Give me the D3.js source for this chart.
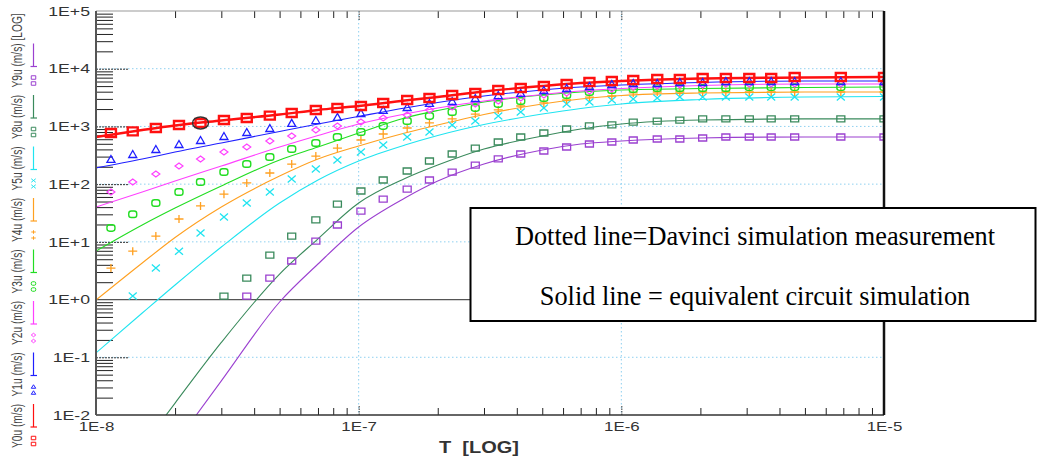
<!DOCTYPE html>
<html>
<head>
<meta charset="utf-8">
<script src="https://cdn.jsdelivr.net/npm/d3@7"></script>
<style>
body { margin: 0; background: #fff; }
svg { display: block; }
</style>
</head>
<body>
<svg id="chart" width="1037" height="461"></svg>
<script>
var T = [1.14e-8, 1.38e-8, 1.69e-8, 2.07e-8, 2.5e-8, 3.07e-8, 3.75e-8, 4.59e-8, 5.56e-8, 6.87e-8, 8.3e-8,
         1.02e-7, 1.24e-7, 1.53e-7, 1.86e-7, 2.27e-7, 2.78e-7, 3.4e-7, 4.14e-7, 5.07e-7, 6.19e-7, 7.56e-7, 9.2e-7,
         1.11e-6, 1.37e-6, 1.67e-6, 2.04e-6, 2.5e-6, 3.07e-6, 3.72e-6, 4.57e-6, 6.85e-6, 1e-5];
var y0u = [769, 820, 939, 1060, 1150, 1290, 1400, 1540, 1710, 1930, 2090, 2260, 2550, 2870, 3110, 3500, 3800,
           4280, 4630, 5010, 5430, 5880, 6120, 6370, 6630, 6630, 6900, 6900, 6900, 6900, 7180, 7180, 7180];
var y1u = [273, 333, 406, 496, 582, 682, 800, 939, 1150, 1290, 1460, 1710, 1930, 2170, 2550, 2760, 3110,
           3500, 3800, 4280, 4630, 5010, 5430, 5650, 5650, 5880, 5880, 6120, 6120, 6120, 6120, 6120, 6120];
var y2u = [73, 109, 150, 206, 273, 360, 440, 559, 682, 867, 1020, 1190, 1400, 1580, 1930, 2170, 2450,
           2760, 3110, 3500, 3800, 4110, 4450, 4800, 5010, 5220, 5220, 5430, 5430, 5430, 5430, 5430, 5430];
var y3u = [17.4, 30, 47, 73, 109, 162, 223, 295, 406, 516, 656, 800, 1020, 1240, 1520, 1780, 2090,
           2450, 2760, 3110, 3500, 3950, 4280, 4450, 4630, 4630, 4630, 4630, 4800, 4800, 4800, 4800, 4800];
var y4u = [3.52, 6.9, 12.6, 24.9, 42, 67, 105, 156, 223, 307, 422, 582, 739, 939, 1150, 1350, 1640,
           1930, 2260, 2550, 2870, 3230, 3370, 3800, 3950, 3950, 3950, 3950, 3950, 3950, 3950, 3950, 3950];
var y5u = [null, 1.15, 3.52, 6.9, 14.2, 27, 47, 73, 123, 183, 262, 360, 476, 656, 800, 1060, 1240,
           1520, 1780, 2090, 2450, 2650, 2870, 2990, 3110, 3230, 3230, 3230, 3230, 3230, 3230, 3230, 3230];
var y8u = [null, null, null, null, null, 1.15, 2.36, 5.9, 12.6, 24, 45, 76, 118, 169, 252, 333, 422,
           537, 656, 769, 902, 1020, 1060, 1190, 1240, 1290, 1350, 1350, 1350, 1350, 1350, 1350, 1350];
var y9u = [null, null, null, null, null, null, 1.15, 2.36, 4.66, 10.3, 19.6, 34, 55, 82, 118, 162, 214,
           273, 333, 375, 440, 496, 537, 582, 605, 605, 630, 656, 656, 656, 656, 656, 656];

// equivalent circuit simulation (solid lines)
var lineT = [1e-8, 1.5e-8, 2e-8, 3e-8, 5e-8, 7e-8, 1e-7, 1.5e-7, 2e-7, 3e-7, 5e-7, 7e-7, 1e-6, 2e-6, 5e-6, 1e-5];
var y0uSim = [656, 867, 1040, 1270, 1610, 1930, 2260, 2810, 3240, 4030, 5010, 5650, 6120, 6760, 7040, 7180];
var y1uSim = [191, 272, 360, 516, 817, 1100, 1490, 2090, 2590, 3370, 4280, 4820, 5220, 5770, 6120, 6120];
var y2uSim = [40.2, 73.1, 113, 206, 440, 697, 1100, 1640, 2090, 2760, 3570, 4110, 4540, 5120, 5430, 5430];
var y3uSim = [6.93, 19.6, 38.5, 92.9, 262, 440, 769, 1400, 1890, 2650, 3500, 3950, 4280, 4550, 4720, 4820];
var y4uSim = [0.98, 4.3, 11.9, 40.2, 138, 272, 458, 769, 1060, 1610, 2450, 2990, 3440, 3800, 3950, 3950];
var y5uSim = [0.119, 0.585, 1.79, 8.15, 47.1, 118, 252, 476, 697, 1080, 1640, 2050, 2450, 2930, 3240, 3300];
var y8uSim = [null, 0.0028, 0.0161, 0.181, 2.77, 11.3, 47, 125, 214, 406, 682, 902, 1100, 1290, 1350, 1350];
var y9uSim = [null, null, 0.00314, 0.039, 0.908, 4.13, 18.1, 57.5, 113, 223, 390, 496, 559, 630, 656, 656];

var seriesNames = ["Y0u (m/s)", "Y1u (m/s)", "Y2u (m/s)", "Y3u (m/s)", "Y4u (m/s)", "Y5u (m/s)", "Y8u (m/s)", "Y9u (m/s) [LOG]"];
var yTicks = [1e-2, 1e-1, 1, 10, 100, 1e3, 1e4, 1e5];
var yTickLabels = ["1E-2", "1E-1", "1E+0", "1E+1", "1E+2", "1E+3", "1E+4", "1E+5"];
var xTicks = [1e-8, 1e-7, 1e-6, 1e-5];
var xTickLabels = ["1E-8", "1E-7", "1E-6", "1E-5"];
var boxLines = ["Dotted line=Davinci simulation measurement", "Solid line = equivalent circuit simulation"];

var series = [
    {name: seriesNames[0], marks: y0u, sim: y0uSim, color: "#ff1010", sym: "square", w: 10, h: 8, sw: 2.4, lw: 2.4},
    {name: seriesNames[1], marks: y1u, sim: y1uSim, color: "#1f1fff", sym: "triangle", w: 8, h: 7, sw: 1.3, lw: 1.1},
    {name: seriesNames[2], marks: y2u, sim: y2uSim, color: "#ff40ff", sym: "diamond", w: 8, h: 6, sw: 1.2, lw: 1.1},
    {name: seriesNames[3], marks: y3u, sim: y3uSim, color: "#22dd22", sym: "circle", w: 8, h: 6.5, sw: 1.4, lw: 1.1},
    {name: seriesNames[4], marks: y4u, sim: y4uSim, color: "#ffa020", sym: "plus", w: 9, h: 8, sw: 1.3, lw: 1.1},
    {name: seriesNames[5], marks: y5u, sim: y5uSim, color: "#20e4f0", sym: "cross", w: 8, h: 7, sw: 1.3, lw: 1.1},
    {name: seriesNames[6], marks: y8u, sim: y8uSim, color: "#3a8a5c", sym: "square", w: 8, h: 6, sw: 1.3, lw: 1.1},
    {name: seriesNames[7], marks: y9u, sim: y9uSim, color: "#9b40d0", sym: "square", w: 8, h: 6, sw: 1.3, lw: 1.1}
];

// plot frame in pixels (don't name these top/left: window.top is read-only)
var plotL = 96, plotR = 884, plotT = 11, plotB = 415;
var x = d3.scaleLog().domain([1e-8, 1e-5]).range([plotL, plotR]);
var y = d3.scaleLog().domain([1e-2, 1e5]).range([plotB, plotT]);

// minor tick positions 2..9 in each decade
var minorX = [], minorY = [];
for (var d = -8; d < -5; d++) for (var k = 2; k < 10; k++) minorX.push(k * Math.pow(10, d));
for (var d = -2; d < 5; d++) for (var k = 2; k < 10; k++) minorY.push(k * Math.pow(10, d));

function symbolPath(sym, w, h) {
    var a = w / 2, b = h / 2;
    if (sym == "square") return "M" + (-a) + "," + (-b) + "H" + a + "V" + b + "H" + (-a) + "Z";
    if (sym == "triangle") return "M0," + (-b) + "L" + a + "," + b + "L" + (-a) + "," + b + "Z";
    if (sym == "diamond") return "M0," + (-b) + "L" + a + ",0L0," + b + "L" + (-a) + ",0Z";
    if (sym == "plus") return "M" + (-a) + ",0H" + a + "M0," + (-b) + "V" + b;
    if (sym == "cross") return "M" + (-a) + "," + (-b) + "L" + a + "," + b + "M" + a + "," + (-b) + "L" + (-a) + "," + b;
    // rounded "o"
    var r = Math.min(a, b) * 0.8;
    return "M" + (-a + r) + "," + (-b) + "H" + (a - r) + "A" + r + "," + r + " 0 0 1 " + a + "," + (-b + r) +
        "V" + (b - r) + "A" + r + "," + r + " 0 0 1 " + (a - r) + "," + b + "H" + (-a + r) +
        "A" + r + "," + r + " 0 0 1 " + (-a) + "," + (b - r) + "V" + (-b + r) + "A" + r + "," + r + " 0 0 1 " + (-a + r) + "," + (-b) + "Z";
}

// stretch text horizontally like the screenshot does
function stretch(sel, f) {
    sel.each(function () {
        var w = this.getComputedTextLength();
        this.setAttribute("textLength", w * f);
        this.setAttribute("lengthAdjust", "spacingAndGlyphs");
    });
}

var svg = d3.select("#chart");
svg.append("defs").append("clipPath").attr("id", "plotclip")
    .append("rect").attr("x", plotL).attr("y", plotT).attr("width", plotR - plotL).attr("height", plotB - plotT);

// grid
var grid = svg.append("g");
grid.selectAll("line.h").data([1e-1, 10, 100, 1e3, 1e4]).enter().append("line")
    .attr("x1", plotL).attr("x2", plotR).attr("y1", d => y(d)).attr("y2", d => y(d))
    .attr("stroke", "#8fd0f0").attr("stroke-dasharray", "1.5,2.5");
grid.selectAll("line.v").data([1e-7, 1e-6]).enter().append("line")
    .attr("y1", plotT).attr("y2", plotB).attr("x1", d => x(d)).attr("x2", d => x(d))
    .attr("stroke", "#8fd0f0").attr("stroke-dasharray", "1.5,2.5");
grid.append("line").attr("x1", plotL).attr("x2", plotR).attr("y1", y(1)).attr("y2", y(1))
    .attr("stroke", "#555").attr("stroke-width", 1.2);

// ticks
function tickStyle(g, color) {
    g.select(".domain").remove();
    g.selectAll("line").attr("stroke", color);
}
svg.append("g").attr("transform", "translate(" + plotL + ",0)")
    .call(d3.axisLeft(y).tickValues(minorY).tickSize(-17).tickFormat(""))
    .call(g => tickStyle(g, "#222"));
svg.append("g").attr("transform", "translate(" + plotL + ",0)")
    .call(d3.axisLeft(y).tickValues([1e-1, 10, 100, 1e3, 1e4]).tickSize(-33).tickFormat(""))
    .call(g => { tickStyle(g, "#333"); g.selectAll("line").attr("stroke-dasharray", "2,1"); });
svg.append("g").attr("transform", "translate(0," + plotB + ")")
    .call(d3.axisBottom(x).tickValues(minorX).tickSize(-7).tickFormat(""))
    .call(g => tickStyle(g, "#222"));
svg.append("g").attr("transform", "translate(0," + plotT + ")")
    .call(d3.axisTop(x).tickValues(minorX).tickSize(-7).tickFormat(""))
    .call(g => tickStyle(g, "#222"));
svg.append("g").attr("transform", "translate(0," + plotB + ")")
    .call(d3.axisBottom(x).tickValues([1e-7, 1e-6]).tickSize(-9).tickFormat(""))
    .call(g => { tickStyle(g, "#333"); g.selectAll("line").attr("stroke-dasharray", "1.5,1"); });
svg.append("g").attr("transform", "translate(0," + plotT + ")")
    .call(d3.axisTop(x).tickValues([1e-7, 1e-6]).tickSize(-9).tickFormat(""))
    .call(g => { tickStyle(g, "#333"); g.selectAll("line").attr("stroke-dasharray", "1.5,1"); });

// series
var plot = svg.append("g").attr("clip-path", "url(#plotclip)");
var line = d3.line()
    .defined(d => d[1] != null)
    .x(d => x(d[0])).y(d => y(d[1]))
    .curve(d3.curveMonotoneX);
series.slice().reverse().forEach(function (s) {
    plot.append("path")
        .datum(lineT.map((t, i) => [t, s.sim[i]]))
        .attr("d", line).attr("fill", "none")
        .attr("stroke", s.color).attr("stroke-width", s.lw);
});
series.slice().reverse().forEach(function (s) {
    plot.append("g").selectAll("path")
        .data(T.map((t, i) => [t, s.marks[i]]).filter(d => d[1] != null))
        .enter().append("path")
        .attr("transform", d => "translate(" + x(d[0]) + "," + y(d[1]) + ")")
        .attr("d", symbolPath(s.sym, s.w, s.h))
        .attr("fill", "none").attr("stroke", s.color).attr("stroke-width", s.sw);
});
// selection ring on one red point
plot.append("ellipse").attr("cx", x(T[4])).attr("cy", y(y0u[4])).attr("rx", 8).attr("ry", 6)
    .attr("fill", "none").attr("stroke", "#333").attr("stroke-width", 1.4);

// frame
svg.append("line").attr("x1", plotL).attr("x2", plotR).attr("y1", plotT).attr("y2", plotT).attr("stroke", "#999");
svg.append("line").attr("x1", plotL).attr("x2", plotR).attr("y1", plotB).attr("y2", plotB).attr("stroke", "#333").attr("stroke-width", 1.5);
svg.append("line").attr("x1", plotL).attr("x2", plotL).attr("y1", plotT).attr("y2", plotB).attr("stroke", "#555").attr("stroke-width", 2);
svg.append("line").attr("x1", plotR).attr("x2", plotR).attr("y1", plotT).attr("y2", plotB).attr("stroke", "#111").attr("stroke-width", 2.5);

// tick labels
var yl = svg.append("g").attr("transform", "translate(" + plotL + ",0)")
    .call(d3.axisLeft(y).tickValues(yTicks).tickSize(0).tickPadding(6).tickFormat((d, i) => yTickLabels[i]));
yl.select(".domain").remove();
yl.selectAll("text").attr("font-family", "Liberation Sans, Arial, sans-serif").attr("font-size", 13).attr("fill", "#333");
stretch(yl.selectAll("text"), 1.36);

var xl = svg.append("g").attr("transform", "translate(0," + plotB + ")")
    .call(d3.axisBottom(x).tickValues(xTicks).tickSize(0).tickPadding(6).tickFormat((d, i) => xTickLabels[i]));
xl.select(".domain").remove();
xl.selectAll("text").attr("font-family", "Liberation Sans, Arial, sans-serif").attr("font-size", 13.5).attr("fill", "#333");
stretch(xl.selectAll("text"), 1.25);

var xt = svg.append("text").attr("x", 479).attr("y", 453).attr("text-anchor", "middle")
    .attr("font-family", "Liberation Sans, Arial, sans-serif").attr("font-size", 16).attr("font-weight", "bold")
    .attr("fill", "#333").attr("xml:space", "preserve").text("T  [LOG]");
stretch(xt, 1.25);

// legend along the left edge, bottom to top
var leg = svg.append("g");
series.forEach(function (s, i) {
    var t0 = 404 - 51.5 * i;
    leg.append("line").attr("x1", 33.5).attr("x2", 33.5).attr("y1", t0).attr("y2", t0 + 23)
        .attr("stroke", s.color).attr("stroke-width", 1.2);
    leg.append("line").attr("x1", 30.5).attr("x2", 37).attr("y1", t0 + 23).attr("y2", t0 + 23)
        .attr("stroke", s.color).attr("stroke-width", 1.2);
    [t0 + 34, t0 + 40].forEach(function (cy) {
        leg.append("path").attr("transform", "translate(33.5," + cy + ")")
            .attr("d", symbolPath(s.sym, 4.5, 3.5))
            .attr("fill", "none").attr("stroke", s.color).attr("stroke-width", 1);
    });
    leg.append("text")
        .attr("transform", "translate(22," + (t0 + 44) + ") rotate(-90) scale(1,1.4)")
        .attr("font-family", "Liberation Sans, Arial, sans-serif").attr("font-size", 10.2)
        .attr("fill", "#444").text(s.name);
});

// note box
svg.append("rect").attr("x", 470.5).attr("y", 208).attr("width", 565).attr("height", 113)
    .attr("fill", "#fff").attr("stroke", "#000").attr("stroke-width", 2);
svg.selectAll("text.note").data(boxLines).enter().append("text")
    .attr("x", 755).attr("y", (d, i) => 245 + i * 60).attr("text-anchor", "middle")
    .attr("font-family", "Liberation Serif, Times New Roman, serif").attr("font-size", 26.3)
    .attr("fill", "#000").text(d => d);
</script>
</body>
</html>
